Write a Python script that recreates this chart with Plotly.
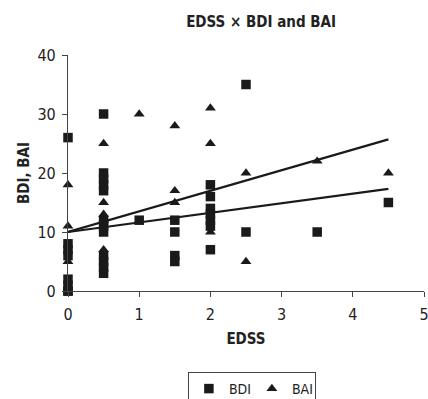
import plotly.graph_objects as go

# BDI (squares)
bdi_x = [0, 0, 0, 0, 0, 0, 0, 0,
         0.5, 0.5, 0.5, 0.5, 0.5, 0.5, 0.5, 0.5, 0.5, 0.5, 0.5, 0.5,
         1,
         1.5, 1.5, 1.5, 1.5,
         2, 2, 2, 2, 2, 2, 2,
         2.5, 2.5,
         3.5,
         4.5]
bdi_y = [26, 8, 7, 6, 2, 1, 0, 0,
         30, 20, 19, 18, 17, 12, 11, 10, 6, 5, 4, 3,
         12,
         12, 10, 6, 5,
         18, 16, 14, 13, 12, 11, 7,
         35, 10,
         10,
         15]

# BAI (triangles)
bai_x = [0, 0, 0,
         0.5, 0.5, 0.5, 0.5, 0.5,
         1,
         1.5, 1.5, 1.5,
         2, 2, 2,
         2.5, 2.5,
         3.5,
         4.5]
bai_y = [18, 11, 5,
         25, 15, 13, 12, 7,
         30,
         28, 17, 15,
         31, 25, 10,
         20, 5,
         22,
         20]

# regression lines
fit_x = [0, 4.5]
bdi_fit = [10.0, 17.3]
bai_fit = [10.0, 25.7]

x_ticks = [0, 1, 2, 3, 4, 5]
y_ticks = [0, 10, 20, 30, 40]

FONT = "DejaVu Sans Condensed, Roboto, sans-serif"
ink = "#1a1a1a"

fig = go.Figure()
fig.add_trace(go.Scatter(x=fit_x, y=bdi_fit, mode="lines",
                         line=dict(color=ink, width=2.2), showlegend=False,
                         cliponaxis=False, hoverinfo="skip"))
fig.add_trace(go.Scatter(x=fit_x, y=bai_fit, mode="lines",
                         line=dict(color=ink, width=2.2), showlegend=False,
                         cliponaxis=False, hoverinfo="skip"))
fig.add_trace(go.Scatter(x=bdi_x, y=bdi_y, mode="markers", name="BDI",
                         marker=dict(symbol="square", size=9.5, color=ink),
                         cliponaxis=False))
fig.add_trace(go.Scatter(x=bai_x, y=bai_y, mode="markers", name="BAI",
                         marker=dict(symbol="triangle-up", size=9.5, color=ink),
                         cliponaxis=False))

fig.update_layout(
    width=428, height=399,
    margin=dict(l=68, r=4, t=55, b=108, autoexpand=False),
    paper_bgcolor="white", plot_bgcolor="white",
    font=dict(family=FONT, size=16, color="#222"),
    title=dict(text="<b>EDSS × BDI and BAI</b>", x=0.61, xanchor="center",
               y=0.945, yanchor="middle", font=dict(family=FONT, size=15, color="#222")),
    xaxis=dict(range=[0, 5], tickvals=x_ticks, showgrid=False, zeroline=False,
               showline=True, linecolor="#444", linewidth=1.2,
               ticks="outside", ticklen=5, tickcolor="#444",
               ticklabelstandoff=4, ticklabeloverflow="allow",
               title=dict(text="<b>EDSS</b>", standoff=10,
                          font=dict(family=FONT, size=15))),
    yaxis=dict(range=[0, 40], tickvals=y_ticks, showgrid=False, zeroline=False,
               showline=True, linecolor="#444", linewidth=1.2,
               ticks="outside", ticklen=5, tickcolor="#444",
               ticklabelstandoff=3, ticklabeloverflow="allow",
               title=dict(text="<b>BDI, BAI</b>", standoff=4,
                          font=dict(family=FONT, size=15))),
    legend=dict(orientation="h", xref="container", yref="container",
                x=0.439, xanchor="left", y=0.0677, yanchor="top",
                bordercolor="#444", borderwidth=1, font=dict(family=FONT, size=14),
                itemwidth=30, entrywidth=18, tracegroupgap=0),
)

fig.write_html("out.html", config={"displayModeBar": False},
               post_script="document.body.style.margin='0';document.body.style.overflow='hidden';")
